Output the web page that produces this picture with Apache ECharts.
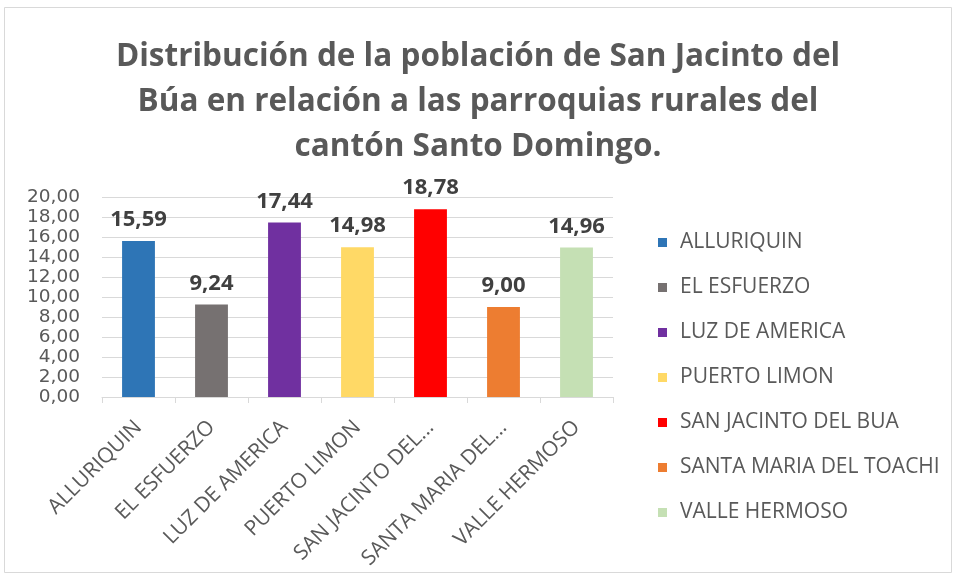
<!DOCTYPE html>
<html><head><meta charset="utf-8">
<script src="https://cdn.jsdelivr.net/npm/echarts@6/dist/echarts.min.js"></script>
<style>html,body{margin:0;padding:0;background:#fff}#c{width:956px;height:578px}</style>
</head><body><div id="c"></div>
<script>
const categories = ["ALLURIQUIN","EL ESFUERZO","LUZ DE AMERICA","PUERTO LIMON","SAN JACINTO DEL BUA","SANTA MARIA DEL TOACHI","VALLE HERMOSO"];
const tickLabels = ["ALLURIQUIN","EL ESFUERZO","LUZ DE AMERICA","PUERTO LIMON","SAN JACINTO DEL...","SANTA MARIA DEL...","VALLE HERMOSO"];
const values = [15.59, 9.24, 17.44, 14.98, 18.78, 9.00, 14.96];
const colors = ["#2E75B6","#767171","#7030A0","#FFD966","#FF0000","#ED7D31","#C5E0B4"];
const yTicks = [0,2,4,6,8,10,12,14,16,18,20];
const titleText = "Distribución de la población de San Jacinto del\nBúa en relación a las parroquias rurales del\ncantón Santo Domingo.";

const fmt = v => Number(v).toFixed(2).replace('.', ',');
const FONT = "'Open Sans', 'Noto Sans', sans-serif";

const series = categories.map((name, i) => ({
  name: name,
  type: 'bar',
  stack: 'all',
  barWidth: '45%',
  itemStyle: { color: colors[i] },
  data: categories.map((c, j) => j === i ? values[i] : '-'),
  label: {
    show: true, position: 'top', distance: 10,
    formatter: p => fmt(p.value),
    fontFamily: FONT, fontWeight: 'bold', fontSize: 22, color: '#404040'
  }
}));

const chart = echarts.init(document.getElementById('c'), null, {renderer: 'canvas'});
chart.setOption({
  animation: false,
  backgroundColor: '#fff',
  graphic: [{ type: 'rect', shape: { x: 4.5, y: 7.5, width: 947, height: 565 }, style: { fill: 'none', stroke: '#D9D9D9', lineWidth: 1 } }],
  title: {
    text: titleText, left: 'center', top: 30, padding: [5, 5, 5, 29],
    textStyle: { fontFamily: FONT, fontWeight: 'bold', fontSize: 31.5, color: '#595959', lineHeight: 45 }
  },
  legend: {
    orient: 'vertical', left: 658, top: 232, itemGap: 24, padding: 0,
    itemWidth: 9, itemHeight: 9, icon: 'rect',
    data: categories,
    textStyle: { fontFamily: FONT, fontSize: 21, color: '#595959', lineHeight: 21, padding: [0,0,0,8] }
  },
  grid: { left: 102, right: 343, top: 197, bottom: 181, containLabel: false },
  xAxis: {
    type: 'category', data: categories,
    axisLine: { lineStyle: { color: '#D9D9D9' } },
    axisTick: { show: true, length: 6, lineStyle: { color: '#D9D9D9' } },
    axisLabel: {
      rotate: 45, margin: 27, interval: 0,
      formatter: (v, i) => tickLabels[i],
      fontFamily: FONT, fontSize: 21, color: '#595959'
    }
  },
  yAxis: {
    type: 'value', min: yTicks[0], max: yTicks[yTicks.length-1], interval: 2,
    axisLine: { show: false }, axisTick: { show: false },
    splitLine: { lineStyle: { color: '#D9D9D9', width: 1 } },
    axisLabel: { formatter: v => fmt(v), fontFamily: "'DejaVu Sans', sans-serif", fontSize: 18.5, color: '#595959', margin: 22, showMinLabel: true, showMaxLabel: true }
  },
  series: series
});
</script></body></html>
